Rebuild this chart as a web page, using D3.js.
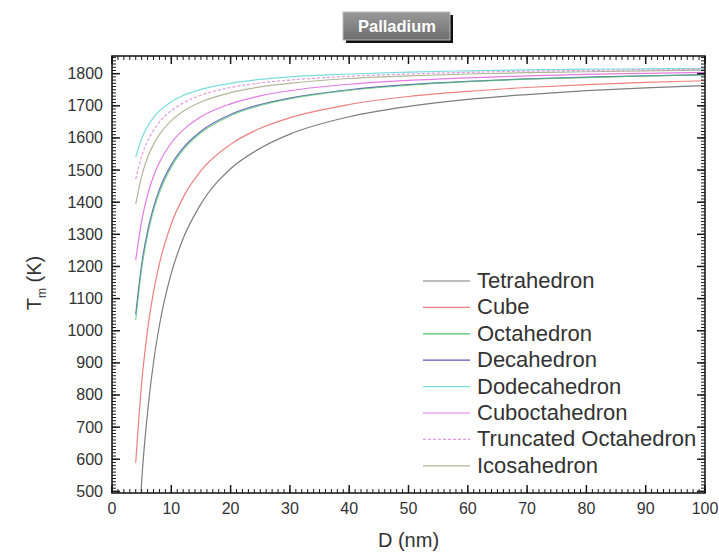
<!DOCTYPE html>
<html>
<head>
<meta charset="utf-8">
<script src="https://cdn.jsdelivr.net/npm/d3@7/dist/d3.min.js"></script>
<style>
  body { margin: 0; background: #fff; }
  text { font-family: Arial, "Liberation Sans", sans-serif; }
</style>
</head>
<body>
<div id="chart"></div>
<script>
// values
var D_nm = [4, 5, 6, 7, 8, 10, 12, 15, 20, 25, 30, 40, 50, 60, 70, 80, 90, 100];
var D_tetra = [4.9, 5, 6, 7, 8, 10, 12, 15, 20, 25, 30, 40, 50, 60, 70, 80, 90, 100];

var tetrahedron = [500, 530, 746, 901, 1017, 1179, 1287, 1395, 1504, 1568, 1612, 1666, 1698, 1720, 1735, 1747, 1756, 1763];
var cube = [589, 837, 1002, 1120, 1209, 1333, 1415, 1498, 1580, 1630, 1663, 1704, 1729, 1745, 1757, 1766, 1773, 1778];
var octahedron = [1033, 1192, 1298, 1374, 1430, 1510, 1563, 1616, 1669, 1701, 1722, 1748, 1764, 1775, 1783, 1788, 1793, 1796];
var decahedron = [1051, 1206, 1310, 1384, 1440, 1517, 1569, 1621, 1673, 1704, 1724, 1750, 1766, 1776, 1784, 1789, 1793, 1797];
var dodecahedron = [1540, 1598, 1636, 1663, 1684, 1713, 1732, 1751, 1770, 1782, 1790, 1799, 1805, 1809, 1812, 1814, 1815, 1816];
var cuboctahedron = [1220, 1342, 1423, 1481, 1524, 1585, 1625, 1666, 1706, 1731, 1747, 1767, 1779, 1787, 1793, 1798, 1801, 1804];
var truncOctahedron = [1472, 1543, 1590, 1624, 1650, 1685, 1709, 1733, 1757, 1771, 1780, 1792, 1799, 1804, 1808, 1810, 1812, 1814];
var icosahedron = [1394, 1481, 1539, 1580, 1611, 1654, 1683, 1712, 1741, 1759, 1770, 1785, 1793, 1799, 1803, 1806, 1809, 1811];

var xTicks = [0, 10, 20, 30, 40, 50, 60, 70, 80, 90, 100];
var yTicks = [500, 600, 700, 800, 900, 1000, 1100, 1200, 1300, 1400, 1500, 1600, 1700, 1800];

var series = [
  {name: "Tetrahedron", x: D_tetra, y: tetrahedron, color: "#7e7e7e", dash: null, op: 1},
  {name: "Cube", x: D_nm, y: cube, color: "#ee8080", dash: null, op: 1},
  {name: "Decahedron", x: D_nm, y: decahedron, color: "#5a5ab8", dash: null, op: 0.9},
  {name: "Octahedron", x: D_nm, y: octahedron, color: "#4cc46a", dash: null, op: 0.7},
  {name: "Dodecahedron", x: D_nm, y: dodecahedron, color: "#78dede", dash: null, op: 1},
  {name: "Cuboctahedron", x: D_nm, y: cuboctahedron, color: "#e57ae5", dash: null, op: 1},
  {name: "Truncated Octahedron", x: D_nm, y: truncOctahedron, color: "#e29ae2", dash: "3,2", op: 1},
  {name: "Icosahedron", x: D_nm, y: icosahedron, color: "#b5b59c", dash: null, op: 1}
];
var legendOrder = ["Tetrahedron", "Cube", "Octahedron", "Decahedron", "Dodecahedron",
  "Cuboctahedron", "Truncated Octahedron", "Icosahedron"];

function draw() {
  var W = 719, H = 559;
  var pLeft = 112, pRight = 705, pTop = 56, pBottom = 493;

  var svg = d3.select("#chart").append("svg")
    .attr("width", W).attr("height", H);

  var x = d3.scaleLinear().domain([0, 100]).range([pLeft, pRight]);
  var y = d3.scaleLinear().domain([495, 1855]).range([pBottom, pTop]);

  // clip for the curves
  svg.append("clipPath").attr("id", "clip")
    .append("rect").attr("x", pLeft).attr("y", pTop)
    .attr("width", pRight - pLeft).attr("height", pBottom - pTop);

  var line = d3.line()
    .x(function(d) { return x(d[0]); })
    .y(function(d) { return y(d[1]); })
    .curve(d3.curveMonotoneX);

  var curves = svg.append("g").attr("clip-path", "url(#clip)");
  series.forEach(function(s) {
    var pts = s.x.map(function(v, i) { return [v, s.y[i]]; });
    curves.append("path")
      .attr("d", line(pts))
      .attr("fill", "none")
      .attr("stroke", s.color)
      .attr("stroke-opacity", s.op)
      .attr("stroke-width", 1.2)
      .attr("stroke-dasharray", s.dash);
  });

  // ticks, inward on all four sides
  var minorX = d3.range(0, 101, 1);
  var minorY = d3.range(500, 1851, 10);
  var tk = svg.append("g");

  function xTickLines(vals, len, sw) {
    [[pBottom, -1], [pTop, 1]].forEach(function(p) {
      tk.append("g").selectAll("line").data(vals).join("line")
        .attr("x1", function(d) { return x(d); }).attr("x2", function(d) { return x(d); })
        .attr("y1", p[0]).attr("y2", p[0] + p[1] * len)
        .attr("stroke", "#1a1a1a").attr("stroke-width", sw);
    });
  }
  function yTickLines(vals, len, sw) {
    [[pLeft, 1], [pRight, -1]].forEach(function(p) {
      tk.append("g").selectAll("line").data(vals).join("line")
        .attr("y1", function(d) { return y(d); }).attr("y2", function(d) { return y(d); })
        .attr("x1", p[0]).attr("x2", p[0] + p[1] * len)
        .attr("stroke", "#1a1a1a").attr("stroke-width", sw);
    });
  }
  xTickLines(minorX, 4, 1);
  xTickLines(xTicks, 8, 1.5);
  yTickLines(minorY, 4, 1);
  yTickLines(yTicks, 8, 1.5);

  // tick labels
  svg.append("g").selectAll("text").data(xTicks).join("text")
    .attr("x", function(d) { return x(d); }).attr("y", pBottom + 21)
    .attr("text-anchor", "middle").attr("font-size", 16).attr("fill", "#333")
    .text(function(d) { return d; });
  svg.append("g").selectAll("text").data(yTicks).join("text")
    .attr("x", pLeft - 9).attr("y", function(d) { return y(d) + 5.5; })
    .attr("text-anchor", "end").attr("font-size", 16).attr("fill", "#333")
    .text(function(d) { return d; });

  // frame
  svg.append("rect")
    .attr("x", pLeft).attr("y", pTop)
    .attr("width", pRight - pLeft).attr("height", pBottom - pTop)
    .attr("fill", "none").attr("stroke", "#111").attr("stroke-width", 1.5);

  // axis titles
  svg.append("text")
    .attr("x", (pLeft + pRight) / 2).attr("y", 547)
    .attr("text-anchor", "middle").attr("font-size", 20).attr("fill", "#333")
    .text("D (nm)");

  var yl = svg.append("text")
    .attr("transform", "translate(41," + 283 + ") rotate(-90)")
    .attr("text-anchor", "middle").attr("font-size", 20).attr("fill", "#333");
  yl.append("tspan").text("T");
  yl.append("tspan").attr("font-size", 12).attr("dy", 5).text("m");
  yl.append("tspan").attr("dy", -5).text(" (K)");

  // title button
  var grad = svg.append("defs").append("linearGradient").attr("id", "btn")
    .attr("x1", 0).attr("y1", 0).attr("x2", 0).attr("y2", 1);
  grad.append("stop").attr("offset", "0%").attr("stop-color", "#9a9a9a");
  grad.append("stop").attr("offset", "100%").attr("stop-color", "#6e6e6e");

  svg.append("rect")
    .attr("x", 346).attr("y", 15).attr("width", 107).attr("height", 28)
    .attr("fill", "#111");
  svg.append("rect")
    .attr("x", 343).attr("y", 12).attr("width", 107).attr("height", 28)
    .attr("fill", "url(#btn)").attr("stroke", "#bbb").attr("stroke-width", 1);
  svg.append("text")
    .attr("x", 397).attr("y", 32)
    .attr("text-anchor", "middle").attr("font-size", 16.5).attr("font-weight", "bold")
    .attr("fill", "#fff")
    .text("Palladium");

  // legend
  var lg = svg.append("g");
  legendOrder.forEach(function(name, i) {
    var s = series.find(function(d) { return d.name === name; });
    var yy = 281 + i * 26.4;
    lg.append("line")
      .attr("x1", 423).attr("x2", 470).attr("y1", yy).attr("y2", yy)
      .attr("stroke", s.color).attr("stroke-width", 1.2)
      .attr("stroke-dasharray", s.dash);
    lg.append("text")
      .attr("x", 477).attr("y", yy + 7)
      .attr("font-size", 22).attr("fill", "#333")
      .text(s.name);
  });
}

draw();
</script>
</body>
</html>
